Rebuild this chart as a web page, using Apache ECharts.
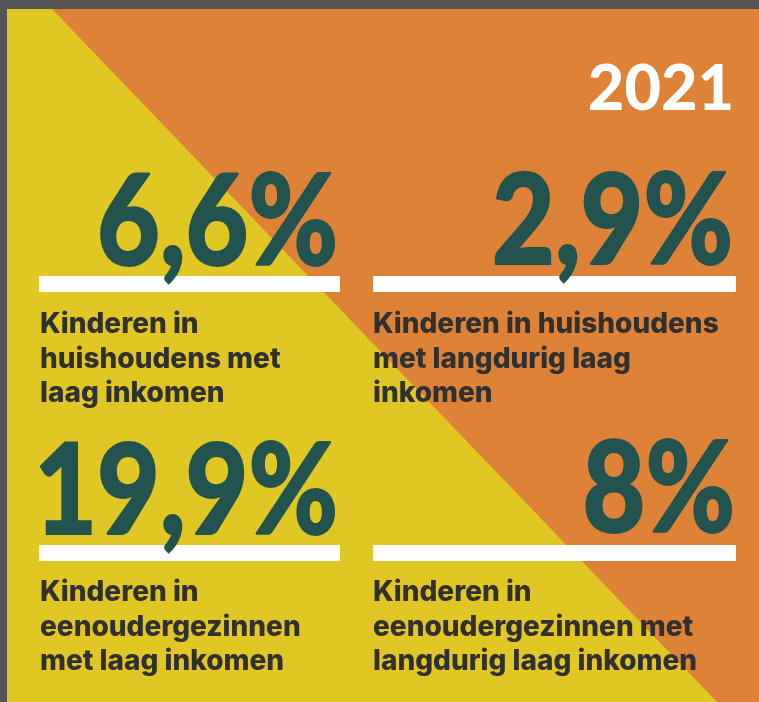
<!DOCTYPE html>
<html>
<head>
<meta charset="utf-8">
<script src="https://cdn.jsdelivr.net/npm/echarts@6/dist/echarts.min.js"></script>
<style>
  html, body { margin: 0; padding: 0; background: #555; }
  #plc_data { width: 759px; height: 702px; }
</style>
</head>
<body>
<div id="plc_data"></div>
<script>
// kerncijfers 2021
var jaar = "2021";
var cijfers = [6.6, 2.9, 19.9, 8];
var omschrijvingen = [
  "Kinderen in\nhuishoudens met\nlaag inkomen",
  "Kinderen in huishoudens\nmet langdurig laag\ninkomen",
  "Kinderen in\neenoudergezinnen\nmet laag inkomen",
  "Kinderen in\neenoudergezinnen met\nlangdurig laag inkomen"
];

// plaatsing van de vakken (in px van het plaatje)
var vakken = [
  {numRight: 338, numBase: 268, bar: [39, 276, 301, 16], labelX: 40, labelBase: 335},
  {numRight: 733, numBase: 267, bar: [373, 276, 363, 16], labelX: 373, labelBase: 335},
  {numRight: 338, numBase: 537, bar: [39, 545, 301, 16], labelX: 40, labelBase: 603},
  {numRight: 735, numBase: 535, bar: [373, 545, 363, 16], labelX: 373, labelBase: 603}
];

var geel = "#e1c723", oranje = "#de8237", groen = "#22534f", tekst = "#303030";
var numFont = "900 126px Lato", numScale = 0.86, labelFont = "800 28px Inter", regel = 34.5;

function fmt(v) {
  return String(v).replace(".", ",") + "%";
}

var chart = echarts.init(document.getElementById("plc_data"));

var option = {
  backgroundColor: "#555",
  animation: false,
  grid: {left: 0, right: 0, top: 0, bottom: 0},
  xAxis: {type: "value", min: 0, max: 759, show: false},
  yAxis: {type: "value", min: 0, max: 702, inverse: true, show: false},
  graphic: [
    {type: "rect", shape: {x: 7, y: 9, width: 752, height: 693}, style: {fill: geel}, z: -10},
    {type: "polygon", shape: {points: [[52, 9], [759, 9], [759, 702], [717, 702]]}, style: {fill: oranje}, z: -9},
    {type: "text", x: 734, y: 90, style: {text: jaar, fill: "#fff", font: "900 63px Lato", align: "right", verticalAlign: "middle"}}
  ],
  series: [{
    type: "custom",
    coordinateSystem: "cartesian2d",
    data: cijfers.map(function (v, i) { return [i, v]; }),
    renderItem: function (params, api) {
      var i = params.dataIndex, lay = vakken[i];
      var num = api.coord([lay.numRight, lay.numBase - 44]);
      var b0 = api.coord([lay.bar[0], lay.bar[1]]);
      var bs = api.size([lay.bar[2], lay.bar[3]]);
      var children = [
        {type: "rect", shape: {x: b0[0], y: b0[1], width: bs[0], height: bs[1]}, style: {fill: "#fff"}},
        {type: "text", x: num[0], y: num[1], scaleX: numScale,
          style: {text: fmt(api.value(1)), fill: groen, font: numFont, align: "right", verticalAlign: "middle",
            stroke: groen, lineWidth: 2}}
      ];
      omschrijvingen[i].split("\n").forEach(function (t, k) {
        var p = api.coord([lay.labelX, lay.labelBase - 10 + k * regel]);
        children.push({type: "text", x: p[0], y: p[1],
          style: {text: t, fill: tekst, font: labelFont, align: "left", verticalAlign: "middle"}});
      });
      return {type: "group", children: children};
    }
  }]
};
chart.setOption(option);
</script>
</body>
</html>
